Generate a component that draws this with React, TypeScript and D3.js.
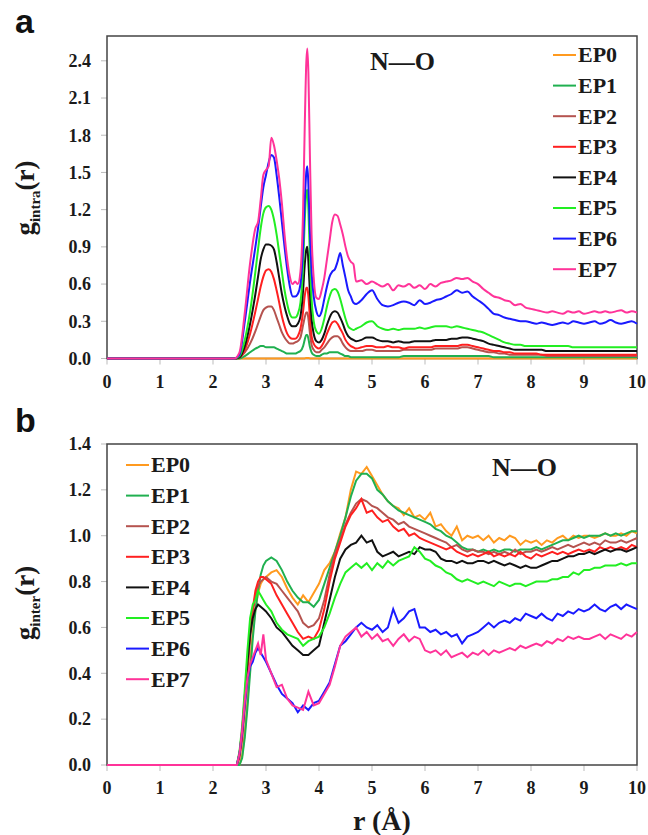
import React from 'react';
import * as d3 from 'd3';

const W = 648;
const H = 835;
const X_LEFT = 107;
const X_RIGHT = 637;

const SERIES_NAMES = ['EP0', 'EP1', 'EP2', 'EP3', 'EP4', 'EP5', 'EP6', 'EP7'];
const COLORS = ['#FF9A1F', '#20B050', '#B5534F', '#FF2020', '#111111', '#22EE22', '#1A1AFF', '#FF3399'];
const X_TICKS = [0, 1, 2, 3, 4, 5, 6, 7, 8, 9, 10];
const Y_TICKS_A = [0, 0.3, 0.6, 0.9, 1.2, 1.5, 1.8, 2.1, 2.4];
const Y_TICKS_B = [0, 0.2, 0.4, 0.6, 0.8, 1.0, 1.2, 1.4];

// panel a: intramolecular g(r)
const R_A = [
  0, 2.4, 2.5, 2.6, 2.7, 2.8, 2.85, 2.9, 2.95, 3.0,
  3.05, 3.1, 3.15, 3.2, 3.25, 3.3, 3.35, 3.4, 3.45, 3.5,
  3.55, 3.6, 3.65, 3.7, 3.73, 3.76, 3.78, 3.8, 3.83, 3.86,
  3.9, 3.95, 4.0, 4.05, 4.1, 4.15, 4.2, 4.25, 4.3, 4.35,
  4.4, 4.45, 4.5, 4.55, 4.6, 4.65, 4.7, 4.8, 4.9, 5.0,
  5.1, 5.2, 5.3, 5.4, 5.5, 5.6, 5.7, 5.8, 5.9, 6.0,
  6.1, 6.2, 6.3, 6.4, 6.5, 6.6, 6.7, 6.8, 6.9, 7.0,
  7.1, 7.2, 7.3, 7.4, 7.5, 7.6, 7.7, 7.8, 7.9, 8.0,
  8.1, 8.2, 8.3, 8.4, 8.5, 8.6, 8.7, 8.8, 8.9, 9.0,
  9.1, 9.2, 9.3, 9.4, 9.5, 9.6, 9.7, 9.8, 9.9, 10.0,
];
const EP0_A = [
  0, 0, 0, 0, 0, 0, 0, 0, 0, 0,
  0, 0, 0, 0, 0, 0, 0, 0, 0, 0,
  0, 0, 0, 0, 0, 0.005, 0.005, 0.005, 0, 0,
  0, 0, 0, 0, 0, 0, 0, 0, 0, 0,
  0, 0, 0, 0, 0, 0, 0, 0, 0, 0,
  0, 0, 0, 0, 0, 0, 0, 0, 0, 0,
  0, 0, 0, 0, 0, 0, 0, 0, 0, 0,
  0, 0, 0, 0, 0, 0, 0, 0, 0, 0,
  0, 0, 0, 0, 0, 0, 0, 0, 0, 0,
  0, 0, 0, 0, 0, 0, 0, 0, 0, 0,
];
const EP1_A = [
  0, 0, 0, 0.02, 0.05, 0.08, 0.09, 0.1, 0.1, 0.09,
  0.09, 0.09, 0.09, 0.08, 0.07, 0.06, 0.05, 0.04, 0.04, 0.04,
  0.04, 0.05, 0.06, 0.1, 0.15, 0.19, 0.19, 0.16, 0.09, 0.05,
  0.03, 0.02, 0.02, 0.03, 0.04, 0.04, 0.05, 0.05, 0.05, 0.05,
  0.04, 0.03, 0.02, 0.02, 0.01, 0.01, 0.01, 0.01, 0.01, 0.01,
  0.01, 0.01, 0.01, 0.01, 0.01, 0.02, 0.02, 0.02, 0.02, 0.02,
  0.02, 0.02, 0.02, 0.02, 0.02, 0.02, 0.02, 0.02, 0.02, 0.02,
  0.02, 0.02, 0.01, 0.01, 0.01, 0.01, 0.01, 0.01, 0.01, 0.01,
  0.01, 0.01, 0.01, 0.01, 0.01, 0.01, 0.01, 0.01, 0.01, 0.01,
  0.01, 0.01, 0.01, 0.01, 0.01, 0.01, 0.01, 0.01, 0.01, 0.01,
];
const EP2_A = [
  0, 0, 0.01, 0.05, 0.12, 0.22, 0.28, 0.34, 0.39, 0.41,
  0.42, 0.42, 0.39, 0.33, 0.27, 0.21, 0.17, 0.14, 0.12, 0.12,
  0.13, 0.14, 0.17, 0.27, 0.33, 0.37, 0.37, 0.32, 0.2, 0.11,
  0.07, 0.05, 0.05, 0.07, 0.09, 0.12, 0.15, 0.17, 0.18, 0.18,
  0.16, 0.12, 0.09, 0.07, 0.06, 0.06, 0.06, 0.06, 0.07, 0.07,
  0.06, 0.06, 0.06, 0.06, 0.06, 0.07, 0.07, 0.07, 0.07, 0.07,
  0.07, 0.08, 0.08, 0.08, 0.08, 0.08, 0.09, 0.09, 0.08, 0.07,
  0.06, 0.05, 0.05, 0.04, 0.04, 0.03, 0.03, 0.03, 0.03, 0.03,
  0.03, 0.03, 0.02, 0.02, 0.02, 0.02, 0.02, 0.02, 0.02, 0.02,
  0.02, 0.02, 0.02, 0.02, 0.02, 0.02, 0.02, 0.02, 0.02, 0.02,
];
const EP3_A = [
  0, 0, 0.01, 0.07, 0.2, 0.38, 0.48, 0.58, 0.66, 0.71,
  0.72, 0.7, 0.64, 0.55, 0.45, 0.34, 0.26, 0.2, 0.17, 0.16,
  0.16, 0.18, 0.24, 0.38, 0.5, 0.57, 0.57, 0.5, 0.32, 0.18,
  0.12, 0.09, 0.08, 0.1, 0.14, 0.2, 0.25, 0.29, 0.3, 0.28,
  0.24, 0.2, 0.15, 0.12, 0.1, 0.09, 0.08, 0.09, 0.1, 0.1,
  0.09, 0.09, 0.1, 0.09, 0.09, 0.08, 0.09, 0.09, 0.09, 0.09,
  0.09, 0.1, 0.1, 0.1, 0.1, 0.1, 0.11, 0.11, 0.1, 0.09,
  0.08, 0.07, 0.06, 0.06, 0.05, 0.05, 0.04, 0.04, 0.04, 0.04,
  0.04, 0.03, 0.03, 0.03, 0.03, 0.03, 0.03, 0.03, 0.03, 0.03,
  0.03, 0.03, 0.03, 0.03, 0.03, 0.03, 0.03, 0.03, 0.03, 0.03,
];
const EP4_A = [
  0, 0, 0.01, 0.1, 0.28, 0.52, 0.66, 0.8, 0.88, 0.92,
  0.92, 0.91, 0.88, 0.78, 0.65, 0.52, 0.42, 0.34, 0.28, 0.26,
  0.26, 0.28, 0.34, 0.55, 0.75, 0.88, 0.9, 0.78, 0.52, 0.32,
  0.2, 0.14, 0.13, 0.15, 0.2, 0.27, 0.33, 0.37, 0.38, 0.37,
  0.33, 0.28, 0.22, 0.18, 0.16, 0.15, 0.14, 0.15, 0.17, 0.17,
  0.15, 0.14, 0.14, 0.13, 0.14, 0.13, 0.13, 0.14, 0.14, 0.14,
  0.14, 0.15, 0.15, 0.15, 0.16, 0.16, 0.17, 0.17, 0.16, 0.15,
  0.14, 0.12, 0.11, 0.1, 0.09, 0.08, 0.07, 0.07, 0.07, 0.07,
  0.07, 0.07, 0.06, 0.06, 0.06, 0.06, 0.06, 0.06, 0.06, 0.06,
  0.06, 0.06, 0.06, 0.06, 0.06, 0.06, 0.06, 0.06, 0.06, 0.06,
];
const EP5_A = [
  0, 0, 0.02, 0.15, 0.38, 0.7, 0.88, 1.05, 1.17, 1.22,
  1.23, 1.2, 1.12, 1.0, 0.85, 0.7, 0.55, 0.44, 0.36, 0.33,
  0.33, 0.36, 0.45, 0.75, 1.1, 1.33, 1.36, 1.2, 0.8, 0.48,
  0.3, 0.22, 0.2, 0.24, 0.32, 0.42, 0.5, 0.55, 0.56, 0.54,
  0.48, 0.4, 0.32, 0.26, 0.24, 0.23, 0.24, 0.26, 0.29, 0.3,
  0.26, 0.24, 0.23, 0.24, 0.23, 0.24, 0.24, 0.24, 0.25, 0.24,
  0.25, 0.26, 0.26, 0.26, 0.25, 0.26, 0.25, 0.24, 0.23, 0.22,
  0.21, 0.19, 0.17, 0.15, 0.13, 0.12, 0.11, 0.11, 0.1, 0.1,
  0.1, 0.1, 0.1, 0.1, 0.1, 0.1, 0.1, 0.09, 0.09, 0.09,
  0.09, 0.09, 0.09, 0.09, 0.09, 0.09, 0.09, 0.09, 0.09, 0.09,
];
const EP6_A = [
  0, 0, 0.03, 0.3, 0.62, 0.9, 1.05, 1.22, 1.38, 1.48,
  1.58, 1.64, 1.62, 1.48, 1.3, 1.1, 0.9, 0.72, 0.58, 0.5,
  0.5, 0.52, 0.6, 0.9, 1.25, 1.5, 1.55, 1.4, 1.0, 0.7,
  0.5, 0.38, 0.34, 0.38, 0.48, 0.58, 0.66, 0.7, 0.72, 0.78,
  0.85, 0.75, 0.65, 0.55, 0.5, 0.45, 0.44, 0.47, 0.52, 0.55,
  0.48, 0.43, 0.42, 0.43, 0.45, 0.46, 0.45, 0.43, 0.47, 0.44,
  0.45, 0.47, 0.48, 0.5, 0.52, 0.55, 0.53, 0.54, 0.5, 0.47,
  0.44, 0.4, 0.36, 0.35, 0.33, 0.32, 0.31, 0.3, 0.3, 0.29,
  0.28, 0.29, 0.28, 0.27, 0.28, 0.29, 0.28, 0.3, 0.29, 0.28,
  0.29, 0.3, 0.28, 0.29, 0.31, 0.29, 0.28, 0.29, 0.3, 0.28,
];
const EP7_A = [
  0, 0, 0.05, 0.37, 0.77, 1.05, 1.1, 1.28, 1.48, 1.52,
  1.55, 1.78, 1.72, 1.6, 1.45, 1.25, 1.0, 0.8, 0.66, 0.6,
  0.62, 0.6, 0.7, 1.2, 1.85, 2.38, 2.5, 2.3, 1.6, 1.0,
  0.65, 0.49, 0.48, 0.55, 0.65, 0.8, 0.95, 1.1, 1.16, 1.15,
  1.08, 1.0, 0.9, 0.82, 0.78, 0.76, 0.62, 0.63, 0.6, 0.62,
  0.6, 0.58, 0.6, 0.55, 0.59, 0.58, 0.6, 0.57, 0.59, 0.56,
  0.6, 0.58, 0.61, 0.62, 0.63, 0.65, 0.64, 0.65, 0.62, 0.6,
  0.56, 0.53, 0.5, 0.49, 0.47, 0.46, 0.43, 0.44, 0.41, 0.4,
  0.39, 0.38, 0.37, 0.38, 0.37, 0.36, 0.38, 0.37, 0.38, 0.36,
  0.37, 0.38, 0.37, 0.38, 0.37, 0.38, 0.39, 0.37, 0.38, 0.37,
];

// panel b: intermolecular g(r)
const R_B = [
  0, 2.4, 2.45, 2.5, 2.55, 2.6, 2.65, 2.7, 2.75, 2.8, 2.85, 2.9, 2.95, 3.0,
  3.1, 3.2, 3.3, 3.4, 3.5, 3.6, 3.7, 3.8, 3.9, 4.0,
  4.1, 4.2, 4.3, 4.4, 4.5, 4.6, 4.7, 4.8, 4.9, 5.0,
  5.1, 5.2, 5.3, 5.4, 5.5, 5.6, 5.7, 5.8, 5.9, 6.0,
  6.1, 6.2, 6.3, 6.4, 6.5, 6.6, 6.7, 6.8, 6.9, 7.0,
  7.1, 7.2, 7.3, 7.4, 7.5, 7.6, 7.7, 7.8, 7.9, 8.0,
  8.1, 8.2, 8.3, 8.4, 8.5, 8.6, 8.7, 8.8, 8.9, 9.0,
  9.1, 9.2, 9.3, 9.4, 9.5, 9.6, 9.7, 9.8, 9.9, 10.0,
];
const EP0_B = [
  0, 0, 0, 0, 0.04, 0.14, 0.28, 0.44, 0.58, 0.68, 0.75, 0.79, 0.81, 0.82,
  0.84, 0.85, 0.82, 0.77, 0.73, 0.7, 0.74, 0.71, 0.75, 0.79,
  0.85, 0.88, 0.93, 1.01, 1.08, 1.2, 1.28, 1.27, 1.3, 1.26,
  1.22, 1.18, 1.15, 1.13, 1.12, 1.09, 1.12, 1.08, 1.09, 1.07,
  1.1, 1.04, 1.05, 1.02, 1.0, 1.04, 0.98, 1.0, 0.99, 1.0,
  0.98, 1.0, 0.97, 0.99, 0.98, 1.0, 0.99, 0.96, 0.98, 0.97,
  0.98, 0.96, 0.98, 0.97, 0.99, 1.0, 0.98, 1.0, 0.99, 1.0,
  1.0, 0.99, 1.0, 1.01, 1.0, 1.0, 1.01, 1.0, 1.02, 1.01,
];
const EP1_B = [
  0, 0, 0, 0, 0.03, 0.12, 0.25, 0.4, 0.55, 0.67, 0.76, 0.83, 0.87, 0.89,
  0.905, 0.89, 0.85, 0.8, 0.76, 0.73, 0.71, 0.71, 0.69, 0.72,
  0.79, 0.86, 0.93, 1.0, 1.08, 1.17, 1.24, 1.27, 1.27, 1.25,
  1.2, 1.18, 1.15, 1.13, 1.11, 1.1, 1.09, 1.08, 1.07, 1.06,
  1.05, 1.03, 1.02, 1.0, 0.99, 0.97, 0.95, 0.94, 0.94, 0.93,
  0.94, 0.93, 0.94, 0.93, 0.94, 0.94, 0.93, 0.94, 0.94, 0.94,
  0.95, 0.94, 0.95, 0.96, 0.97, 0.98, 0.98, 0.99, 1.0, 0.99,
  1.0, 1.0, 1.0, 1.01, 1.0, 1.01, 1.0, 1.01, 1.02, 1.02,
];
const EP2_B = [
  0, 0, 0, 0.03, 0.11, 0.25, 0.4, 0.55, 0.66, 0.74, 0.78, 0.8, 0.81, 0.82,
  0.8, 0.79, 0.76, 0.73, 0.7, 0.67, 0.62, 0.6, 0.61, 0.64,
  0.72, 0.83, 0.92, 0.98, 1.05, 1.1, 1.14, 1.16, 1.15, 1.13,
  1.12, 1.1, 1.08, 1.07, 1.05, 1.06, 1.04, 1.03, 1.02, 1.01,
  1.0, 0.99, 0.98, 0.97, 0.95, 0.96, 0.94, 0.93, 0.94, 0.93,
  0.93, 0.92, 0.93, 0.92, 0.93, 0.92, 0.94, 0.92, 0.93, 0.93,
  0.94, 0.93, 0.94, 0.95, 0.94, 0.95, 0.96, 0.95, 0.96, 0.97,
  0.96, 0.97, 0.96, 0.98, 0.97, 0.97, 0.98, 0.97, 0.98, 0.99,
];
const EP3_B = [
  0, 0, 0, 0.04, 0.13, 0.28, 0.43, 0.58, 0.68, 0.76, 0.8, 0.82, 0.82, 0.81,
  0.79, 0.74, 0.7, 0.66, 0.62, 0.58, 0.55, 0.56, 0.55, 0.59,
  0.68, 0.8, 0.9, 0.97, 1.04, 1.09, 1.12, 1.16, 1.1, 1.11,
  1.08, 1.06, 1.07, 1.04, 1.02, 1.03, 1.0, 1.01, 0.99, 0.98,
  0.97, 0.96, 0.95, 0.94, 0.95, 0.93, 0.92, 0.91, 0.92, 0.91,
  0.92, 0.93, 0.91, 0.92, 0.91, 0.92, 0.91, 0.93, 0.91, 0.9,
  0.92, 0.91, 0.92, 0.93, 0.92, 0.93, 0.92, 0.93, 0.94, 0.93,
  0.94, 0.93, 0.95, 0.94, 0.95, 0.94, 0.95, 0.94, 0.96, 0.95,
];
const EP4_B = [
  0, 0, 0, 0.05, 0.15, 0.3, 0.45, 0.57, 0.64, 0.68, 0.7, 0.69, 0.68, 0.67,
  0.64, 0.6, 0.58, 0.55, 0.52, 0.5, 0.48, 0.48, 0.5, 0.52,
  0.62, 0.72, 0.82, 0.9, 0.94, 0.96, 0.97, 1.0, 0.97, 0.98,
  0.93, 0.91, 0.92, 0.93, 0.91, 0.92, 0.93, 0.92, 0.95, 0.94,
  0.94, 0.93, 0.9, 0.89, 0.89, 0.88, 0.89, 0.88, 0.88, 0.89,
  0.89, 0.88, 0.89, 0.88, 0.87, 0.88, 0.87, 0.86, 0.87, 0.86,
  0.86, 0.87, 0.88, 0.89, 0.89, 0.9, 0.91, 0.91, 0.92, 0.92,
  0.93, 0.92, 0.93, 0.94, 0.93, 0.94, 0.94, 0.93, 0.94, 0.95,
];
const EP5_B = [
  0, 0, 0, 0.06, 0.17, 0.33, 0.5, 0.64, 0.7, 0.72, 0.76, 0.74, 0.72, 0.7,
  0.67, 0.62, 0.59, 0.57, 0.56, 0.55, 0.52, 0.54, 0.55, 0.56,
  0.6, 0.66, 0.73, 0.79, 0.84, 0.86, 0.88, 0.86, 0.88, 0.85,
  0.88, 0.86, 0.89, 0.87, 0.89, 0.9, 0.91, 0.95, 0.93, 0.9,
  0.89, 0.87, 0.86, 0.84, 0.83, 0.81, 0.8, 0.81, 0.8, 0.79,
  0.8, 0.79, 0.78, 0.8, 0.79, 0.78, 0.79, 0.79, 0.78, 0.79,
  0.8, 0.8, 0.8, 0.81, 0.81, 0.82, 0.82, 0.84, 0.83, 0.85,
  0.85, 0.86, 0.86, 0.87, 0.87, 0.87, 0.88, 0.87, 0.88, 0.88,
];
const EP6_B = [
  0, 0, 0, 0.05, 0.14, 0.26, 0.37, 0.43, 0.45, 0.49, 0.51, 0.49, 0.47, 0.45,
  0.4, 0.35, 0.31, 0.29, 0.27, 0.23, 0.26, 0.24, 0.27, 0.28,
  0.32, 0.36, 0.44, 0.52, 0.54, 0.57, 0.6, 0.62, 0.6, 0.59,
  0.61, 0.58, 0.6, 0.68, 0.62, 0.64, 0.67, 0.68, 0.6, 0.6,
  0.58, 0.59, 0.57, 0.58, 0.56, 0.57, 0.53, 0.56, 0.57, 0.58,
  0.6, 0.62, 0.6, 0.62, 0.63, 0.62, 0.64, 0.63, 0.66, 0.65,
  0.64, 0.66, 0.64, 0.63, 0.66, 0.65, 0.67, 0.66, 0.68, 0.67,
  0.68, 0.7, 0.68, 0.67, 0.69, 0.7, 0.68, 0.7, 0.69, 0.68,
];
const EP7_B = [
  0, 0, 0, 0.05, 0.15, 0.28, 0.38, 0.44, 0.47, 0.5, 0.53, 0.48, 0.57, 0.46,
  0.4, 0.34, 0.35, 0.29, 0.26, 0.25, 0.24, 0.32, 0.26, 0.27,
  0.31, 0.35, 0.43, 0.52, 0.56, 0.58, 0.6, 0.56, 0.58, 0.55,
  0.57, 0.54, 0.55, 0.52, 0.55, 0.57, 0.54, 0.56, 0.55, 0.5,
  0.49, 0.5, 0.48, 0.5, 0.47, 0.48, 0.49, 0.47, 0.49, 0.48,
  0.5, 0.48, 0.5, 0.49, 0.5, 0.51, 0.5, 0.52, 0.51, 0.52,
  0.53, 0.52, 0.54, 0.53, 0.55, 0.54, 0.56, 0.55, 0.56, 0.55,
  0.55, 0.56, 0.57, 0.55, 0.57, 0.56, 0.55, 0.57, 0.56, 0.58,
];

const SERIES_A = [EP0_A, EP1_A, EP2_A, EP3_A, EP4_A, EP5_A, EP6_A, EP7_A];
const SERIES_B = [EP0_B, EP1_B, EP2_B, EP3_B, EP4_B, EP5_B, EP6_B, EP7_B];

const SERIF = '"Liberation Serif", "Times New Roman", serif';
const SANS = '"Liberation Sans", Arial, sans-serif';

type PanelProps = {
  r: number[];
  series: number[][];
  yMax: number;
  yTicks: number[];
  top: number;
  bottom: number;
  smooth: boolean;
  legendX: number;
  legendY: number;
  titleX: number;
  titleY: number;
  sub: string;
  labelY: number;
  letter: string;
  letterY: number;
};

function Panel(p: PanelProps) {
  const x = d3.scaleLinear().domain([0, 10]).range([X_LEFT, X_RIGHT]);
  const y = d3.scaleLinear().domain([0, p.yMax]).range([p.bottom, p.top]);
  const line = d3
    .line<number>()
    .x((_, i) => x(p.r[i]))
    .y((d) => y(d))
    .curve(p.smooth ? d3.curveMonotoneX : d3.curveLinear);
  const fmt = d3.format('.1f');

  return (
    <g>
      <text x={15} y={p.letterY} fontFamily={SANS} fontWeight="bold" fontSize={34} fill="#111">
        {p.letter}
      </text>

      {p.yTicks.map((t) => (
        <g key={'y' + t}>
          <line x1={X_LEFT - 6} x2={X_LEFT} y1={y(t)} y2={y(t)} stroke="#bbb" strokeWidth={1} />
          <text
            x={91}
            y={y(t)}
            dy="0.35em"
            textAnchor="end"
            fontFamily={SERIF}
            fontWeight="bold"
            fontSize={18}
            fill="#1a1a1a"
          >
            {fmt(t)}
          </text>
        </g>
      ))}
      {X_TICKS.map((t) => (
        <g key={'x' + t}>
          <line x1={x(t)} x2={x(t)} y1={p.bottom} y2={p.bottom + 6} stroke="#bbb" strokeWidth={1} />
          <text
            x={x(t)}
            y={p.bottom + 29}
            textAnchor="middle"
            fontFamily={SERIF}
            fontWeight="bold"
            fontSize={18}
            fill="#1a1a1a"
          >
            {t}
          </text>
        </g>
      ))}

      <rect
        x={X_LEFT}
        y={p.top}
        width={X_RIGHT - X_LEFT}
        height={p.bottom - p.top}
        fill="none"
        stroke="#444"
        strokeWidth={1.5}
      />

      {p.series.map((s, i) => (
        <path key={SERIES_NAMES[i]} d={line(s) || ''} fill="none" stroke={COLORS[i]} strokeWidth={2} />
      ))}

      <text x={p.titleX} y={p.titleY} fontFamily={SERIF} fontWeight="bold" fontSize={26} fill="#1a1a1a">
        N—O
      </text>

      {SERIES_NAMES.map((name, i) => {
        const cy = p.legendY + i * 30.6;
        return (
          <g key={'leg' + name}>
            <line x1={p.legendX} x2={p.legendX + 23} y1={cy} y2={cy} stroke={COLORS[i]} strokeWidth={2} />
            <text
              x={p.legendX + 25}
              y={cy}
              dy="0.34em"
              fontFamily={SERIF}
              fontWeight="bold"
              fontSize={22}
              fill="#1a1a1a"
            >
              {name}
            </text>
          </g>
        );
      })}

      <text
        transform={`translate(34,${p.labelY}) rotate(-90)`}
        textAnchor="middle"
        fontFamily={SERIF}
        fontWeight="bold"
        fontSize={27}
        fill="#1a1a1a"
      >
        g
        <tspan fontSize={15} dy={6}>
          {p.sub}
        </tspan>
        <tspan dy={-6}>(r)</tspan>
      </text>
    </g>
  );
}

export default function App() {
  return (
    <svg
      width={W}
      height={H}
      style={{ position: 'absolute', left: 0, top: 0, display: 'block', background: '#fff' }}
    >
      <rect width={W} height={H} fill="#fff" />
      <Panel
        r={R_A}
        series={SERIES_A}
        yMax={2.6}
        yTicks={Y_TICKS_A}
        top={36}
        bottom={358.5}
        smooth={true}
        legendX={553}
        legendY={55}
        titleX={370}
        titleY={70}
        sub="intra"
        labelY={198}
        letter="a"
        letterY={33}
      />
      <Panel
        r={R_B}
        series={SERIES_B}
        yMax={1.4}
        yTicks={Y_TICKS_B}
        top={444}
        bottom={765}
        smooth={false}
        legendX={126}
        legendY={465}
        titleX={492}
        titleY={476}
        sub="inter"
        labelY={603}
        letter="b"
        letterY={432}
      />
      <text x={382} y={830} textAnchor="middle" fontFamily={SERIF} fontWeight="bold" fontSize={28} fill="#1a1a1a">
        r (Å)
      </text>
    </svg>
  );
}
